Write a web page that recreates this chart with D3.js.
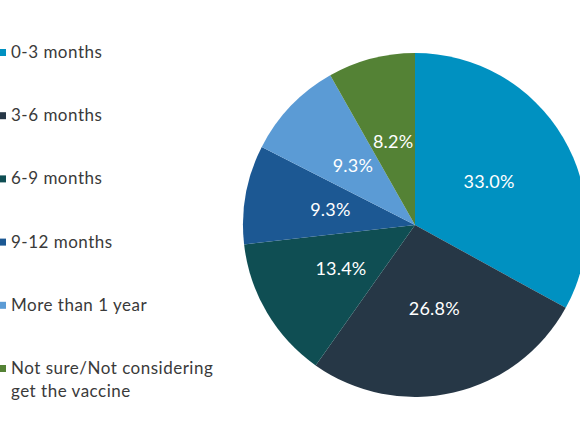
<html lang="en">

<head>
    <meta charset="UTF-8">
    <title>Vaccine timing pie</title>
    <script src="https://d3js.org/d3.v7.js"></script>
    <style>
        body { margin: 0; background: #fff; }
        text { font-family: Lato, "Open Sans", sans-serif; }
    </style>
</head>

<body>
    <div id="chart"></div>

    <script>
        // data
        const categories = ["0-3 months", "3-6 months", "6-9 months", "9-12 months", "More than 1 year", "Not sure/Not considering get the vaccine"];
        const legendLines = [["0-3 months"], ["3-6 months"], ["6-9 months"], ["9-12 months"], ["More than 1 year"], ["Not sure/Not considering", "get the vaccine"]];
        const values = [33.0, 26.8, 13.4, 9.3, 9.3, 8.2];
        const colors = ["#0091c1", "#263746", "#0f4e53", "#1c5893", "#5b9bd5", "#548235"];

        const width = 580;
        const height = 435;

        const svg = d3.select("#chart").append("svg")
            .attr("width", width)
            .attr("height", height);

        const cx = 415, cy = 225, radius = 172;

        const color = d3.scaleOrdinal().domain(categories).range(colors);

        const pie = d3.pie().sort(null).value(d => d.value);
        const arc = d3.arc().innerRadius(0).outerRadius(radius);
        const labelArc = d3.arc().innerRadius(radius / 2).outerRadius(radius / 2);

        const data = categories.map((c, i) => ({ name: c, value: values[i] }));
        const arcs = pie(data);

        const g = svg.append("g").attr("transform", `translate(${cx},${cy})`);

        g.selectAll("path")
            .data(arcs)
            .join("path")
            .attr("d", arc)
            .attr("fill", d => color(d.data.name));

        g.selectAll("text")
            .data(arcs)
            .join("text")
            .attr("transform", d => `translate(${labelArc.centroid(d)})`)
            .attr("text-anchor", "middle")
            .attr("dy", "0.36em")
            .style("fill", "#fff")
            .style("font-size", "18px")
            .style("letter-spacing", "0.2px")
            .text(d => d.data.value.toFixed(1) + "%");

        // legend
        const legend = svg.append("g");
        const rowY = d3.scalePoint().domain(categories).range([58, 374]);

        const item = legend.selectAll("g")
            .data(categories)
            .join("g")
            .attr("transform", d => `translate(0,${rowY(d)})`);

        item.append("rect")
            .attr("x", -1)
            .attr("y", -9)
            .attr("width", 7)
            .attr("height", 7)
            .attr("fill", d => color(d));

        item.append("text")
            .attr("x", 11)
            .style("fill", "#3a3a3a")
            .style("font-size", "17px")
            .style("letter-spacing", "0.5px")
            .selectAll("tspan")
            .data((d, i) => legendLines[i])
            .join("tspan")
            .attr("x", 11)
            .attr("y", (d, i) => i * 23)
            .text(d => d);
    </script>
</body>

</html>
